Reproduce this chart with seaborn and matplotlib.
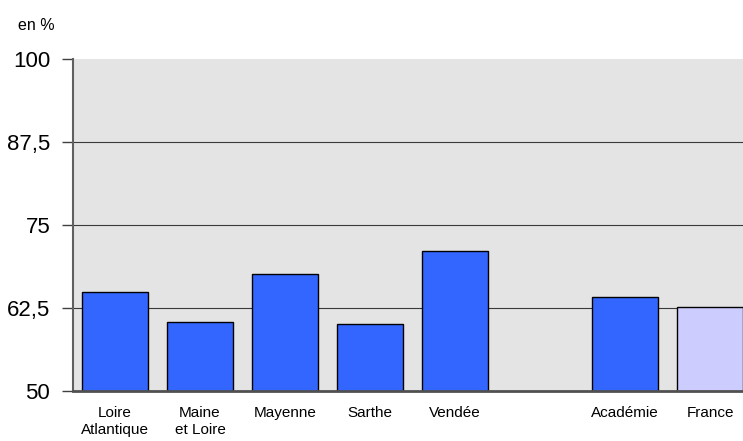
import matplotlib
matplotlib.use("Agg")
import matplotlib.pyplot as plt
import seaborn as sns
import pandas as pd

# slots on the x axis, the blank one keeps the gap before Académie
categories = ["Loire\nAtlantique", "Maine\net Loire", "Mayenne", "Sarthe", "Vendée", "", "Académie", "France"]
values = [64.9, 60.4, 67.6, 60.0, 71.1, None, 64.1, 62.7]
bar_colors = ["#3366ff", "#3366ff", "#3366ff", "#3366ff", "#3366ff", "#3366ff", "#3366ff", "#ccccff"]
y_ticks = [50, 62.5, 75, 87.5, 100]
y_labels = ["50", "62,5", "75", "87,5", "100"]

sns.set_theme(style="white")
plt.rcParams["font.family"] = ["Liberation Sans", "DejaVu Sans"]
plt.rcParams["text.color"] = "black"
plt.rcParams["xtick.labelcolor"] = "black"
plt.rcParams["ytick.labelcolor"] = "black"

df = pd.DataFrame({"cat": categories, "val": values}).dropna()
palette = dict(zip(categories, bar_colors))

fig = plt.figure(figsize=(7.43, 4.41), dpi=100)
ax = fig.add_axes([72.5 / 743, (441 - 390.7) / 441, 680 / 743, 331.4 / 441])
ax.set_facecolor("#e4e4e4")

sns.barplot(data=df, x="cat", y="val", order=categories, hue="cat", palette=palette,
            saturation=1, legend=False, width=0.765, edgecolor="black", linewidth=1,
            ax=ax, zorder=3)

ax.set_ylim(50, 100)
ax.set_xlim(-0.5, 7.5)
ax.set_yticks(y_ticks)
ax.set_yticklabels(y_labels, fontsize=16)
ax.tick_params(axis="y", direction="out", length=8, width=1, color="#404040", pad=8,
               left=True, labelcolor="black")
ax.tick_params(axis="x", length=0, pad=11, labelsize=11, labelcolor="black")
for lab in ax.get_xticklabels():
    lab.set_linespacing(1.25)
    lab.set_va("top")

for t in y_ticks[1:4]:
    ax.axhline(t, color="#3a3a3a", lw=0.8, zorder=1)

for s in ["top", "right"]:
    ax.spines[s].set_visible(False)
ax.spines["left"].set_color("#606060")
ax.spines["left"].set_linewidth(1.5)
ax.spines["bottom"].set_color("#505050")
ax.spines["bottom"].set_linewidth(2)
ax.spines["bottom"].set_zorder(4)

ax.set_xlabel("")
ax.set_ylabel("")
fig.text(18 / 743, 1 - 25 / 441, "en %", fontsize=11.5, va="center", ha="left", color="black")

fig.savefig("out.png", dpi=100)
